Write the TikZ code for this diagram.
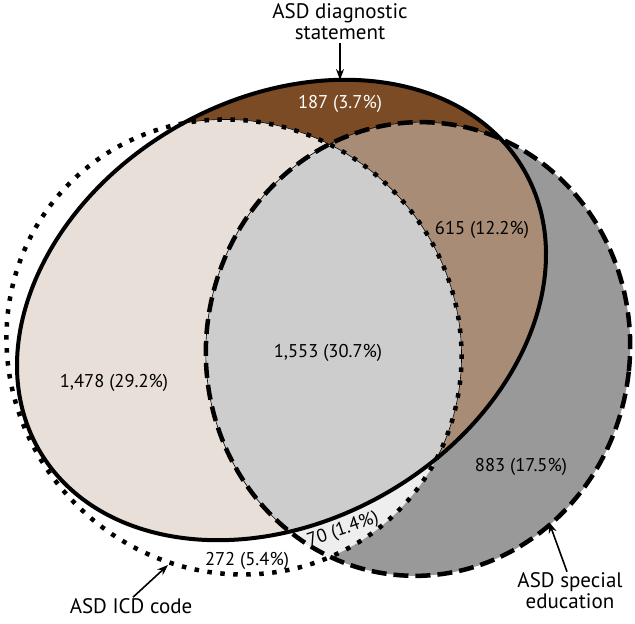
\documentclass[tikz,border=0pt]{standalone}
\usepackage{fontspec}
\setmainfont{PT Sans}
\usetikzlibrary{arrows.meta}
\definecolor{cdark}{RGB}{122,75,36}
\definecolor{ctan}{RGB}{168,140,117}
\definecolor{cbeige}{RGB}{232,224,216}
\definecolor{cgray}{RGB}{205,205,205}
\definecolor{cvlight}{RGB}{238,238,238}
\definecolor{cmed}{RGB}{153,153,153}
\newcommand\PS{(281.5,314) ellipse [x radius=280, y radius=211]}
\newcommand\PD{(234,277) ellipse [x radius=232, y radius=223]}
\newcommand\PA{(418,275) ellipse [x radius=212, y radius=227]}
\begin{document}
\begin{tikzpicture}[x=1pt,y=1pt,
  Tsol/.style={rotate around={30:(281.5,314)}},
  Tdot/.style={rotate around={-45:(234,277)}},
  Tdash/.style={rotate around={-6:(418,275)}},
  solidline/.style={line width=4pt},
  dotline/.style={line width=4.5pt, dash pattern=on 4.5pt off 8.5pt},
  dashline/.style={line width=4.5pt, dash pattern=on 15pt off 7pt},
  thinline/.style={line width=0.6pt},
  lbl/.style={font=\fontsize{18.5}{21}\selectfont, inner sep=0pt},
  title/.style={font=\fontsize{21}{21}\selectfont, inner sep=0pt, align=center},
  arr/.style={line width=1.6pt, -{Stealth[length=11pt,width=8pt]}}]
\useasboundingbox (0,0) rectangle (635,624);
% fills
\fill[Tsol, cdark] \PS;
\fill[Tdash, cmed] \PA;
\begin{scope}\clip[Tdot] \PD; \fill[Tdash, cvlight] \PA;\end{scope}
\begin{scope}\clip[Tsol] \PS; \fill[Tdash, ctan] \PA;\end{scope}
\begin{scope}\clip[Tsol] \PS; \fill[Tdot, cbeige] \PD;\end{scope}
\begin{scope}\clip[Tsol] \PS; \clip[Tdot] \PD; \fill[Tdash, cgray] \PA;\end{scope}
% thin boundaries inside
\begin{scope}\clip[Tsol] \PS;
  \draw[Tdot, thinline] \PD;
  \draw[Tdash, thinline] \PA;
\end{scope}
% outlines
\draw[Tdot, dotline] \PD;
\draw[Tdash, dashline] \PA;
\draw[Tsol, solidline] \PS;
% values
\node[lbl, white] (v187) at (340,520) {187 (3.7\%)};
\node[lbl] (v615) at (482,394) {615 (12.2\%)};
\node[lbl] (v1553) at (328,271) {1,553 (30.7\%)};
\node[lbl] (v1478) at (114,241) {1,478 (29.2\%)};
\node[lbl] (v883) at (521,157) {883 (17.5\%)};
\node[lbl, rotate=19] (v70) at (343,94) {70 (1.4\%)};
\node[lbl] (v272) at (247,63) {272 (5.4\%)};
% set labels
\node[title] (tDiag) at (340,602) {ASD diagnostic\\statement};
\coordinate (pDiag) at (340,544);
\draw[arr] ([yshift=-3pt]tDiag.south) -- (pDiag);
\node[title] (tICD) at (131,18) {ASD ICD code};
\coordinate (pICD) at (168,59);
\draw[arr] ([xshift=2pt,yshift=1pt]tICD.north) -- (pICD);
\node[title] (tSp) at (570,33) {ASD special\\education};
\coordinate (pSp) at (549,102);
\draw[arr] ([xshift=-3pt,yshift=1pt]tSp.north) -- (pSp);
\end{tikzpicture}
\end{document}
